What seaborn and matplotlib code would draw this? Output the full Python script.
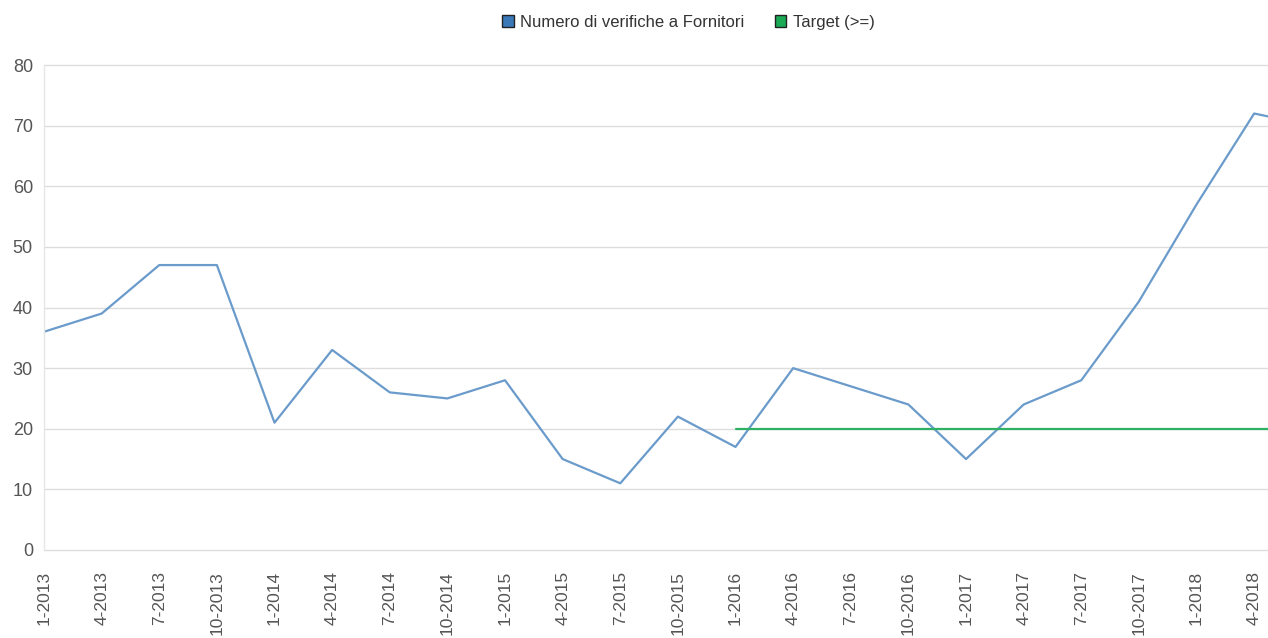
import matplotlib
matplotlib.use("Agg")
import matplotlib.pyplot as plt
from matplotlib.patches import Patch
import seaborn as sns
import pandas as pd
import numpy as np

categories = ["1-2013", "4-2013", "7-2013", "10-2013", "1-2014", "4-2014", "7-2014", "10-2014",
              "1-2015", "4-2015", "7-2015", "10-2015", "1-2016", "4-2016", "7-2016", "10-2016",
              "1-2017", "4-2017", "7-2017", "10-2017", "1-2018", "4-2018", "7-2018"]
verifiche = [36, 39, 47, 47, 21, 33, 26, 25, 28, 15, 11, 22, 17, 30, 27, 24, 15, 24, 28, 41, 57, 72, 70]
target = [np.nan] * 12 + [20] * 11

sns.set_theme(style="white")
plt.rcParams['font.family'] = ['Liberation Sans', 'DejaVu Sans']

df = pd.DataFrame({"pos": np.arange(len(categories)), "cat": categories,
                   "verifiche": verifiche, "target": target})

fig = plt.figure(figsize=(12.68, 6.38), dpi=100)
ax = fig.add_axes([44 / 1268, 88 / 638, 1 - 44 / 1268, (550 - 65) / 638])

sns.lineplot(data=df, x="pos", y="verifiche", ax=ax, color="#6a9bcb", linewidth=1.6)
sns.lineplot(data=df.dropna(), x="pos", y="target", ax=ax, color="#2fb065", linewidth=1.6)

ax.set_ylim(0, 80)
ax.set_xlim(0, 21.24)
ax.set_yticks(range(0, 81, 10))
ax.set_xticks(df["pos"][:22])
ax.set_xticklabels(categories[:22], rotation=90, ha="center", va="top",
                   fontsize=12.5, color="#555555")
ax.tick_params(axis="y", labelsize=13, labelcolor="#555555", length=0, pad=8)
ax.tick_params(axis="x", length=0, pad=15)
ax.set_xlabel("")
ax.set_ylabel("")
ax.grid(axis="y", color="#dddddd", linewidth=1)
ax.grid(axis="x", visible=False)
for gl in ax.get_ygridlines():
    gl.set_clip_on(False)
for s in ["top", "right", "bottom"]:
    ax.spines[s].set_visible(False)
ax.spines["left"].set_color("#e6e6e6")
ax.spines["left"].set_linewidth(1)

handles = [Patch(facecolor="#3a78b8", edgecolor="#222222", linewidth=1),
           Patch(facecolor="#1aa955", edgecolor="#222222", linewidth=1)]
fig.legend(handles, ["Numero di verifiche a Fornitori", "Target (>=)"], loc="center",
           bbox_to_anchor=(0.543, 0.965), ncol=2, frameon=False, fontsize=12,
           handlelength=0.7, handleheight=0.7, handletextpad=0.4, columnspacing=1.8,
           labelcolor="#333333")

fig.savefig("out.png", dpi=100)
